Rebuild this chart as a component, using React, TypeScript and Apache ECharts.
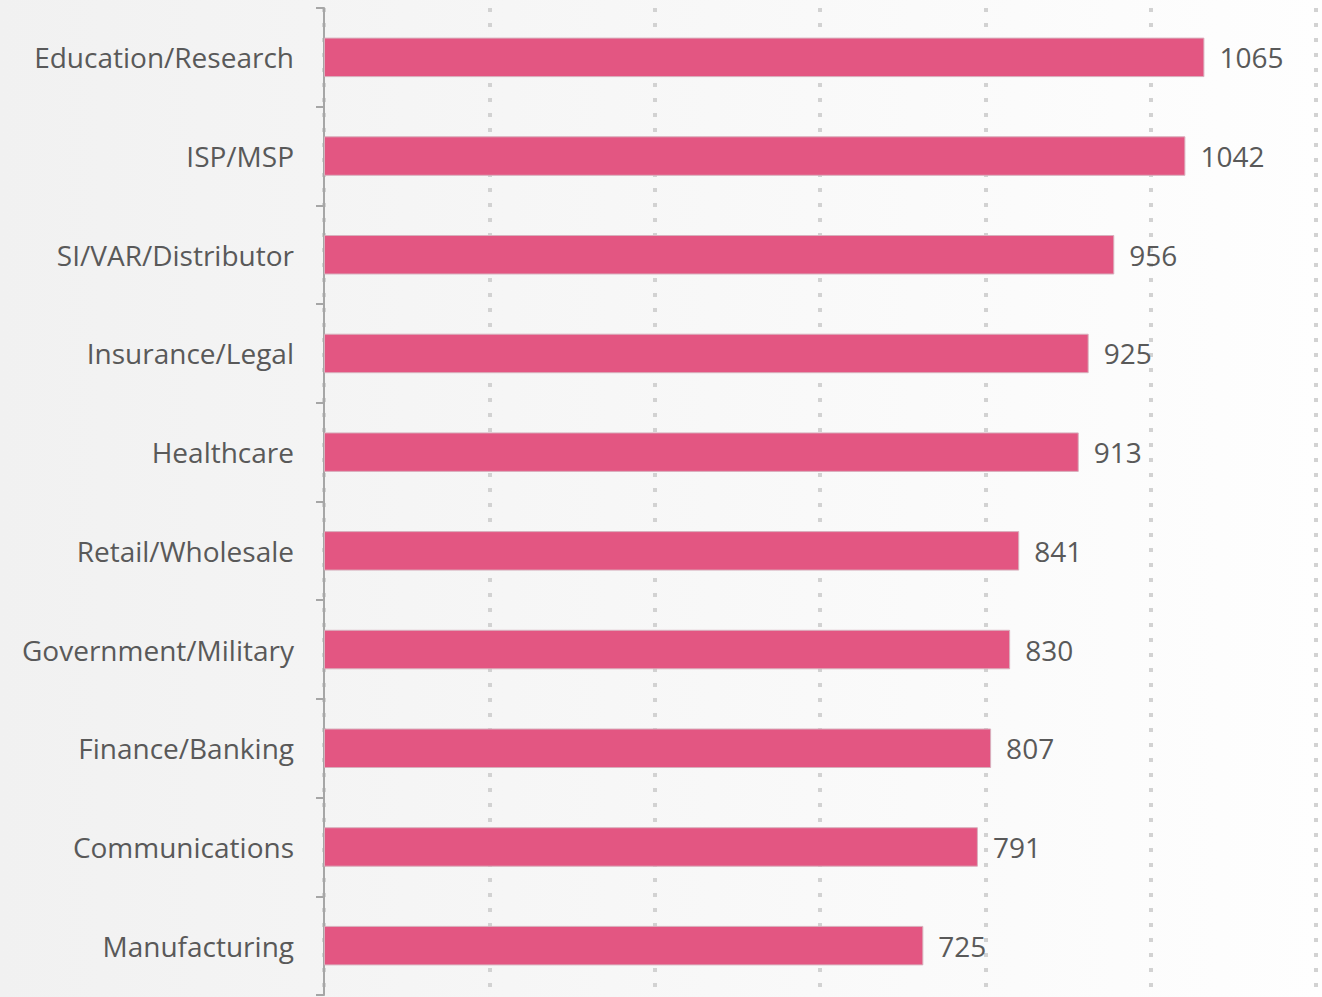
import React, { useEffect, useRef } from "react";
import * as echarts from "echarts";

const categories = [
  "Education/Research",
  "ISP/MSP",
  "SI/VAR/Distributor",
  "Insurance/Legal",
  "Healthcare",
  "Retail/Wholesale",
  "Government/Military",
  "Finance/Banking",
  "Communications",
  "Manufacturing",
];
const values = [1065, 1042, 956, 925, 913, 841, 830, 807, 791, 725];
const axisMax = 1200;
const axisInterval = 200;

export default function App() {
  const ref = useRef<HTMLDivElement>(null);
  useEffect(() => {
    if (!ref.current) return;
    const chart = echarts.init(ref.current, undefined, { renderer: "svg" });
    chart.setOption({
      animation: false,
      backgroundColor: {
        type: "linear",
        x: 0,
        y: 0,
        x2: 1,
        y2: 0,
        colorStops: [
          { offset: 0, color: "#f1f1f1" },
          { offset: 1, color: "#fefefe" },
        ],
      },
      textStyle: { fontFamily: "Open Sans" },
      grid: { left: 324, right: 6, top: 8, bottom: 2, containLabel: false },
      xAxis: {
        type: "value",
        min: 0,
        max: axisMax,
        interval: axisInterval,
        axisLabel: { show: false },
        axisLine: { show: false },
        axisTick: { show: false },
        splitLine: {
          show: true,
          lineStyle: { color: "#d2d2d2", width: 4, type: [4, 11] },
        },
      },
      yAxis: {
        type: "category",
        data: categories,
        inverse: true,
        axisLine: { show: true, lineStyle: { color: "#a6a6a6", width: 2 } },
        axisTick: { show: true, length: 8, lineStyle: { color: "#a6a6a6", width: 2 } },
        axisLabel: {
          color: "#595959",
          fontSize: 28,
          margin: 30,
          fontFamily: "Open Sans",
        },
      },
      series: [
        {
          type: "bar",
          data: values,
          barWidth: "40%",
          itemStyle: { color: "#e35682", borderColor: "#d8b0bd", borderWidth: 1 },
          label: {
            show: true,
            position: "right",
            distance: 15,
            color: "#595959",
            fontSize: 28,
            fontFamily: "Open Sans",
          },
        },
      ],
    });
    return () => chart.dispose();
  }, []);
  return (
    <div
      ref={ref}
      style={{ position: "fixed", left: 0, top: 0, width: 1322, height: 997 }}
    />
  );
}
